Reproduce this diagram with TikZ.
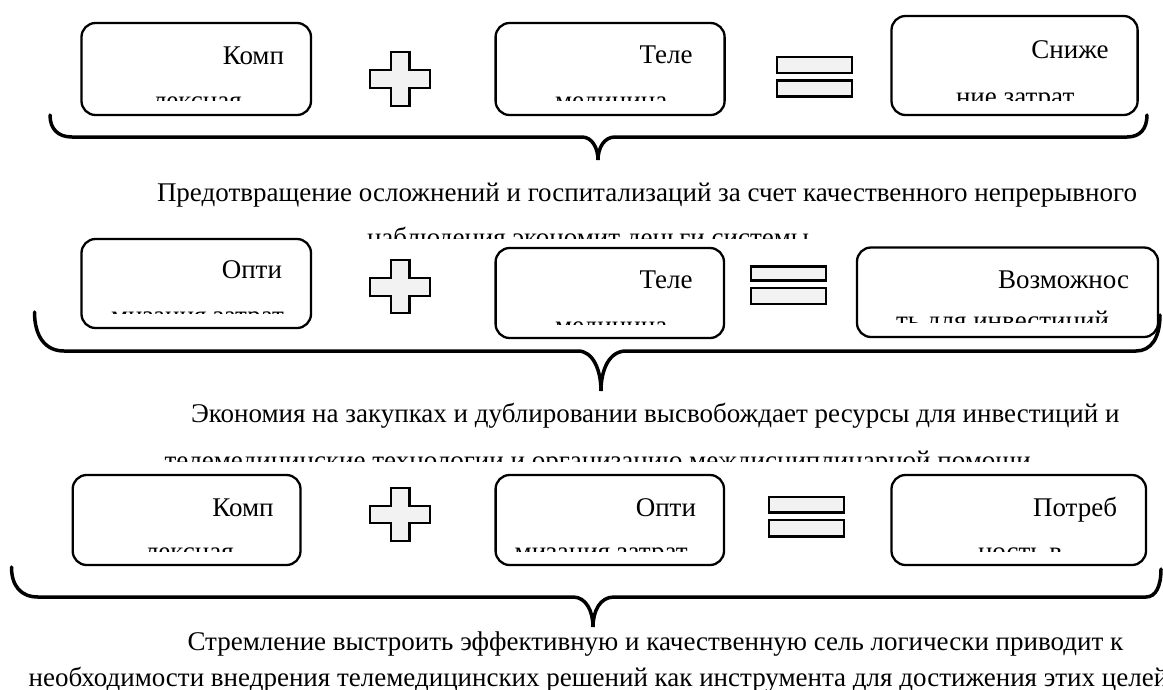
\documentclass[tikz,border=0pt]{standalone}
\usepackage{fontspec}
\setmainfont{Liberation Serif}
\usetikzlibrary{fit}
\definecolor{symgray}{HTML}{F2F2F2}
\begin{document}
\begin{tikzpicture}[x=1pt,y=-1pt,
  bx/.style={draw, line width=2.3pt, rounded corners=14pt, fill=white, inner sep=0pt},
  br/.style={draw, line width=3.5pt, line cap=round},
  sym/.style={draw, line width=2.3pt, fill=symgray, line join=miter},
  tx/.style={inner sep=0pt, outer sep=0pt, font=\fontsize{27}{31}\selectfont}]
\useasboundingbox (0,0) rectangle (1163,689);

% ---------- braces ----------
\draw[br] (50,115) .. controls (50,129) and (58,137) .. (72,137) -- (582,137)
  .. controls (592,137) and (598,148) .. (598,160)
  .. controls (598,148) and (604,137) .. (615,137) -- (1127,137)
  .. controls (1140,137) and (1147,129) .. (1147,115);
\draw[br] (34.5,312) .. controls (34.5,336) and (45,351) .. (64,351) -- (578,351)
  .. controls (593,351) and (601,370) .. (601,391)
  .. controls (601,370) and (609,351) .. (626,351) -- (1136,351)
  .. controls (1151,351) and (1160,338) .. (1160,315);
\draw[br] (11.5,567) .. controls (11.5,586) and (21,597) .. (38,597) -- (573,597)
  .. controls (586,597) and (593,611) .. (593,627)
  .. controls (593,611) and (600,597) .. (614,597) -- (1146,597)
  .. controls (1156,597) and (1161,586) .. (1161,569);

% ---------- boxes ----------
\node[bx, fit={(81.5,23) (311,115)}] (b11) {};
\node[bx, fit={(495.6,23) (724.6,115)}] (b12) {};
\node[bx, fit={(891.5,16) (1137.6,115)}] (b13) {};
\node[bx, fit={(81.5,239) (311,328)}] (b21) {};
\node[bx, fit={(495.6,248) (724,338)}] (b22) {};
\node[bx, fit={(857,247.5) (1158,337)}] (b23) {};
\node[bx, fit={(72.7,475) (300.5,565)}] (b31) {};
\node[bx, fit={(495.6,475) (724,565)}] (b32) {};
\node[bx, fit={(891.5,475) (1146,565)}] (b33) {};

% ---------- box texts ----------
\node[tx, anchor=base east] (b11a) at (284,64) {Комп};
\node[tx, anchor=base east] (b12a) at (692.6,63) {Теле};
\node[tx, anchor=base east] (b13a) at (1108.6,58) {Сниже};
\node[tx, anchor=base east] (b21a) at (282,278) {Опти};
\node[tx, anchor=base east] (b22a) at (692.6,288) {Теле};
\node[tx, anchor=base east] (b23a) at (1129,288) {Возможнос};
\node[tx, anchor=base east] (b31a) at (273.6,516.5) {Комп};
\node[tx, anchor=base east] (b32a) at (696,516.5) {Опти};
\node[tx, anchor=base east] (b33a) at (1117,516.5) {Потреб};

\begin{scope}
\clip (0,0) rectangle (1163,100);
\node[tx, anchor=base west] (b11b) at (153,109.5) {лексная};
\node[tx, anchor=base west] (b12b) at (555,109.5) {медицина};
\node[tx, anchor=base west] (b13b) at (956,105.5) {ние затрат};
\end{scope}
\begin{scope}
\clip (0,0) rectangle (400,313.5);
\node[tx, anchor=base west] (b21b) at (111,324.5) {мизация затрат};
\end{scope}
\begin{scope}
\clip (400,0) rectangle (800,324);
\node[tx, anchor=base west] (b22b) at (555,334.5) {медицина};
\end{scope}
\begin{scope}
\clip (800,0) rectangle (1163,322);
\node[tx, anchor=base west] (b23b) at (896,329.5) {ть для инвестиций};
\end{scope}
\begin{scope}
\clip (0,400) rectangle (1163,551.7);
\node[tx, anchor=base west] (b31b) at (145,560.5) {лексная};
\node[tx, anchor=base west] (b32b) at (514.7,560.5) {мизация затрат};
\node[tx, anchor=base west] (b33b) at (978,560.5) {ность в};
\end{scope}

% ---------- plus signs ----------
\draw[sym] (391,52) -- (409.5,52) -- (409.5,70) -- (430,70) -- (430,88) -- (409.5,88)
  -- (409.5,106) -- (391,106) -- (391,88) -- (370,88) -- (370,70) -- (391,70) -- cycle;
\draw[sym] (391,260) -- (409.5,260) -- (409.5,278) -- (430,278) -- (430,296) -- (409.5,296)
  -- (409.5,313) -- (391,313) -- (391,296) -- (370,296) -- (370,278) -- (391,278) -- cycle;
\draw[sym] (391,488) -- (409.5,488) -- (409.5,506) -- (430,506) -- (430,523) -- (409.5,523)
  -- (409.5,541) -- (391,541) -- (391,523) -- (370,523) -- (370,506) -- (391,506) -- cycle;

% ---------- equals signs ----------
\draw[sym] (777,57) rectangle (852,73);
\draw[sym] (777,80.5) rectangle (852,96.5);
\draw[sym] (751,266.5) rectangle (826,280.5);
\draw[sym] (751,288) rectangle (826,304);
\draw[sym] (769,496.7) rectangle (844,512.5);
\draw[sym] (769,520.3) rectangle (844,536.5);

% ---------- captions ----------
\node[tx, anchor=base west] (c1a) at (157,201.7) {Предотвращение осложнений и госпитализаций за счет качественного непрерывного};
\begin{scope}
\clip (0,150) rectangle (1163,238.3);
\node[tx, anchor=base west] (c1b) at (367,246) {наблюдения экономит деньги системы};
\end{scope}
\node[tx, anchor=base west] (c2a) at (191,422.7) {Экономия на закупках и дублировании высвобождает ресурсы для инвестиций и};
\begin{scope}
\clip (0,400) rectangle (1163,461.7);
\node[tx, anchor=base west] (c2b) at (164.6,469.5) {телемедицинские технологии и организацию междисциплинарной помощи};
\end{scope}
\node[tx, anchor=base west] (c3a) at (187.5,650) {Стремление выстроить эффективную и качественную сель логически приводит к};
\node[tx, anchor=base west] (c3b) at (28.7,686) {необходимости внедрения телемедицинских решений как инструмента для достижения этих целей};
\end{tikzpicture}
\end{document}
